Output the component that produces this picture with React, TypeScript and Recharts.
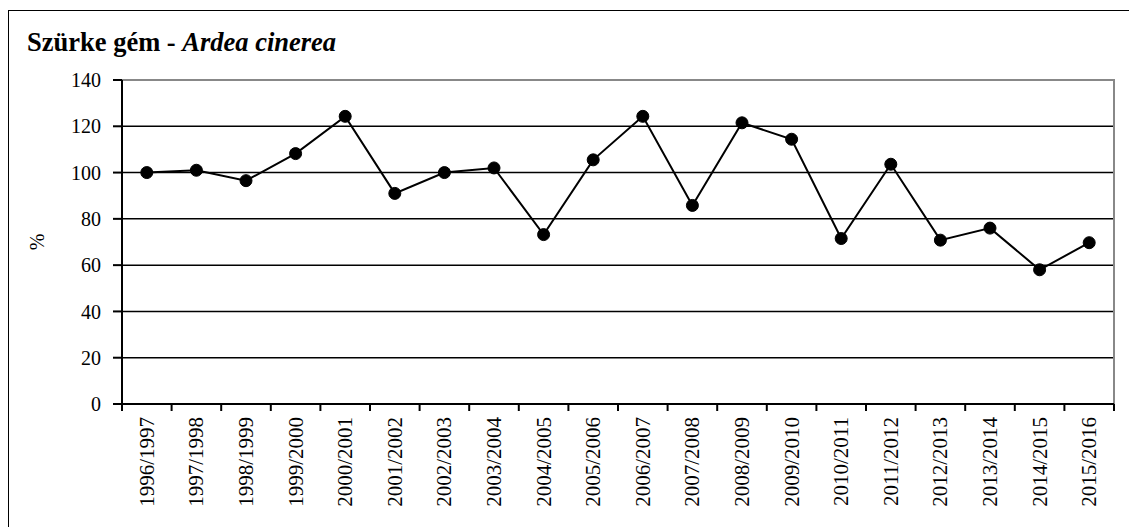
import React from "react";
import { LineChart, Line, XAxis, YAxis, CartesianGrid, ReferenceArea, Label } from "recharts";

const seasons = [
  "1996/1997", "1997/1998", "1998/1999", "1999/2000", "2000/2001",
  "2001/2002", "2002/2003", "2003/2004", "2004/2005", "2005/2006",
  "2006/2007", "2007/2008", "2008/2009", "2009/2010", "2010/2011",
  "2011/2012", "2012/2013", "2013/2014", "2014/2015", "2015/2016",
];
const percents = [
  100, 101, 96.5, 108.2, 124.3, 91, 100, 102, 73.2, 105.5,
  124.3, 85.8, 121.5, 114.4, 71.5, 103.6, 70.8, 76, 58, 69.7,
];
const yTicks = [0, 20, 40, 60, 80, 100, 120, 140];
const boundaries = [...seasons.map((_, i) => i), seasons.length];

const FONT = '"Liberation Serif", "Times New Roman", serif';

const data = seasons.map((s, i) => ({ season: s, pct: percents[i], edge: i }));

function SeasonTick(props: any) {
  const { x, y, payload } = props;
  return (
    <text
      x={x}
      y={y}
      transform={`rotate(-90 ${x} ${y})`}
      textAnchor="end"
      dominantBaseline="central"
      fontFamily={FONT}
      fontSize={21}
      fill="#000"
    >
      {payload.value}
    </text>
  );
}

export default function App() {
  return (
    <div
      style={{
        position: "relative",
        top: 2,
        width: 1125,
        height: 517,
        border: "1px solid #000",
        background: "#fff",
        fontFamily: FONT,
      }}
    >
      <div style={{ position: "absolute", left: 18, top: 16, fontSize: 26.5, fontWeight: "bold", zIndex: 1, whiteSpace: "nowrap" }}>
        Szürke gém - <i>Ardea cinerea</i>
      </div>
      <LineChart width={1125} height={517} data={data} margin={{ top: 69, right: 20, bottom: 14, left: 0 }}>
        <CartesianGrid xAxisId="b" yAxisId="y" vertical={false} stroke="#000" strokeWidth={1.5} />
        <ReferenceArea yAxisId="y" xAxisId="b" y1={0} y2={140} fill="none" stroke="#888" strokeWidth={2} ifOverflow="visible" />
        <XAxis
          xAxisId="a"
          dataKey="edge"
          type="number"
          domain={[0, seasons.length]}
          ticks={boundaries}
          tickFormatter={() => ""}
          height={1}
          tickSize={7}
          tickLine={{ stroke: "#000", strokeWidth: 2 }}
          axisLine={{ stroke: "#000", strokeWidth: 2 }}
        />
        <XAxis
          xAxisId="b"
          dataKey="season"
          scale="band"
          interval={0}
          height={109}
          axisLine={false}
          tickLine={false}
          tickSize={0}
          tickMargin={12}
          tick={<SeasonTick />}
        />
        <YAxis
          yAxisId="y"
          domain={[0, 140]}
          ticks={yTicks}
          width={113}
          tickSize={9}
          tickMargin={12}
          stroke="#000"
          strokeWidth={2}
          tick={{ fill: "#000", fontSize: 20, fontFamily: FONT }}
        >
          <Label
            value="%"
            angle={-90}
            position="insideLeft"
            offset={28}
            style={{ fill: "#000", fontSize: 20, fontFamily: FONT, textAnchor: "middle" }}
          />
        </YAxis>
        <Line
          xAxisId="b"
          yAxisId="y"
          type="linear"
          dataKey="pct"
          stroke="#000"
          strokeWidth={2}
          dot={{ r: 6, fill: "#000", stroke: "#000", strokeWidth: 1 }}
          activeDot={false}
          isAnimationActive={false}
        />
      </LineChart>
    </div>
  );
}
